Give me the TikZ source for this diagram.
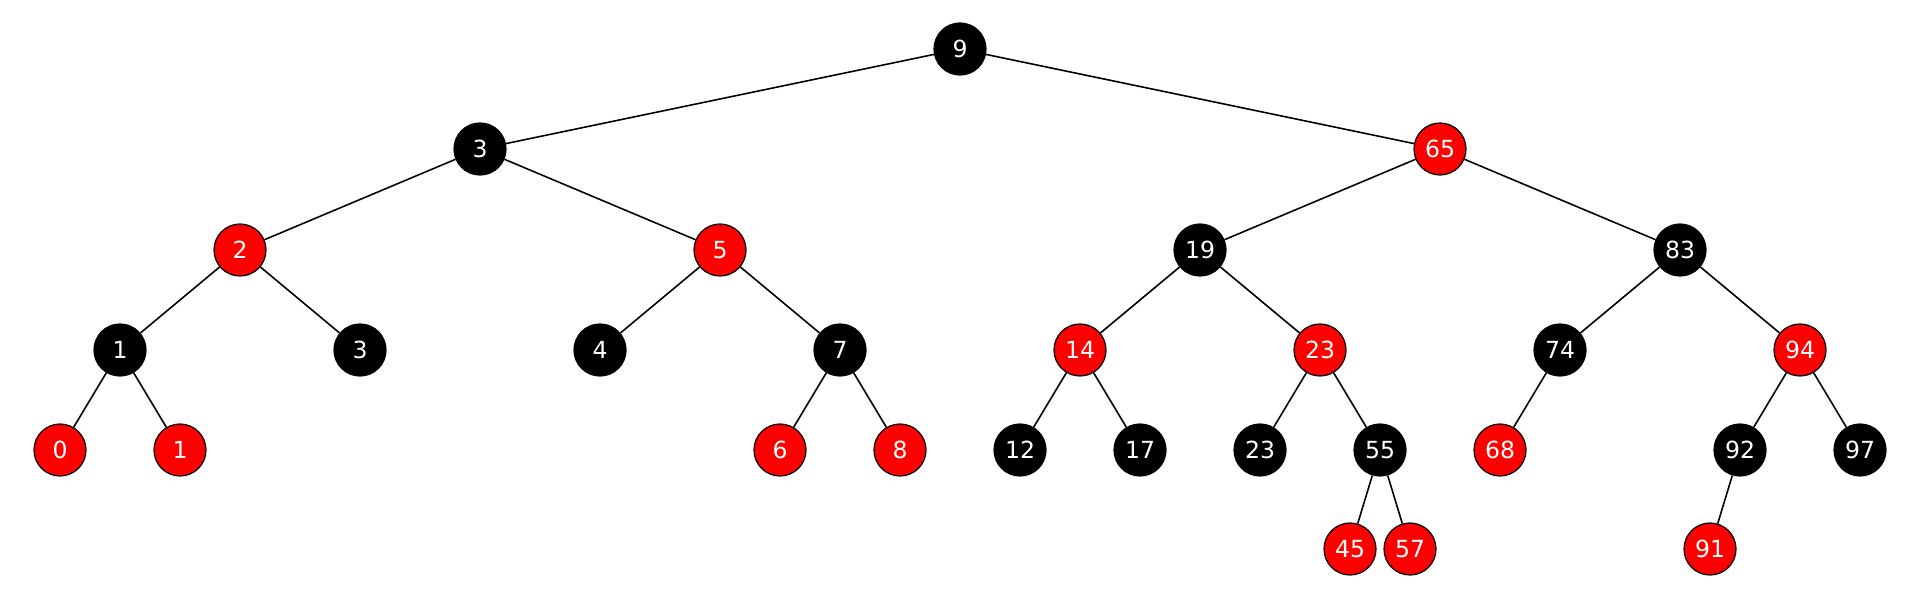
\documentclass[tikz,border=0pt]{standalone}
\usepackage{fontspec}
\setmainfont{DejaVu Sans}
\tikzset{
  rbnode/.style={circle, draw=black, line width=0.35pt, minimum size=0.52cm, inner sep=0pt,
    text=white, font=\fontsize{6.7}{8}\selectfont},
  bk/.style={rbnode, fill=black},
  rd/.style={rbnode, fill=red},
  rbedge/.style={line width=0.45pt, black}
}
\begin{document}
\begin{tikzpicture}
  \useasboundingbox (0,0) rectangle (19.2,6);
  % kok
  \node[bk] (n9) at (9.6,5.51) {9};
  % seviye 1
  \node[bk] (n3a) at (4.8,4.51) {3};
  \node[rd] (n65) at (14.4,4.51) {65};
  % seviye 2
  \node[rd] (n2) at (2.4,3.5) {2};
  \node[rd] (n5) at (7.2,3.5) {5};
  \node[bk] (n19) at (12.0,3.5) {19};
  \node[bk] (n83) at (16.8,3.5) {83};
  % seviye 3
  \node[bk] (n1a) at (1.2,2.5) {1};
  \node[bk] (n3b) at (3.6,2.5) {3};
  \node[bk] (n4) at (6.0,2.5) {4};
  \node[bk] (n7) at (8.4,2.5) {7};
  \node[rd] (n14) at (10.8,2.5) {14};
  \node[rd] (n23a) at (13.2,2.5) {23};
  \node[bk] (n74) at (15.6,2.5) {74};
  \node[rd] (n94) at (18.0,2.5) {94};
  % seviye 4
  \node[rd] (n0) at (0.6,1.5) {0};
  \node[rd] (n1b) at (1.8,1.5) {1};
  \node[rd] (n6) at (7.8,1.5) {6};
  \node[rd] (n8) at (9.0,1.5) {8};
  \node[bk] (n12) at (10.2,1.5) {12};
  \node[bk] (n17) at (11.4,1.5) {17};
  \node[bk] (n23b) at (12.6,1.5) {23};
  \node[bk] (n55) at (13.8,1.5) {55};
  \node[rd] (n68) at (15.0,1.5) {68};
  \node[bk] (n92) at (17.4,1.5) {92};
  \node[bk] (n97) at (18.6,1.5) {97};
  % seviye 5
  \node[rd] (n45) at (13.5,0.51) {45};
  \node[rd] (n57) at (14.1,0.51) {57};
  \node[rd] (n91) at (17.1,0.51) {91};
  % kenarlar
  \foreach \a/\b in {n9/n3a, n9/n65, n3a/n2, n3a/n5, n65/n19, n65/n83,
      n2/n1a, n2/n3b, n5/n4, n5/n7, n19/n14, n19/n23a, n83/n74, n83/n94,
      n1a/n0, n1a/n1b, n7/n6, n7/n8, n14/n12, n14/n17, n23a/n23b, n23a/n55,
      n74/n68, n94/n92, n94/n97, n55/n45, n55/n57, n92/n91}
    \draw[rbedge] (\a) -- (\b);
\end{tikzpicture}
\end{document}
